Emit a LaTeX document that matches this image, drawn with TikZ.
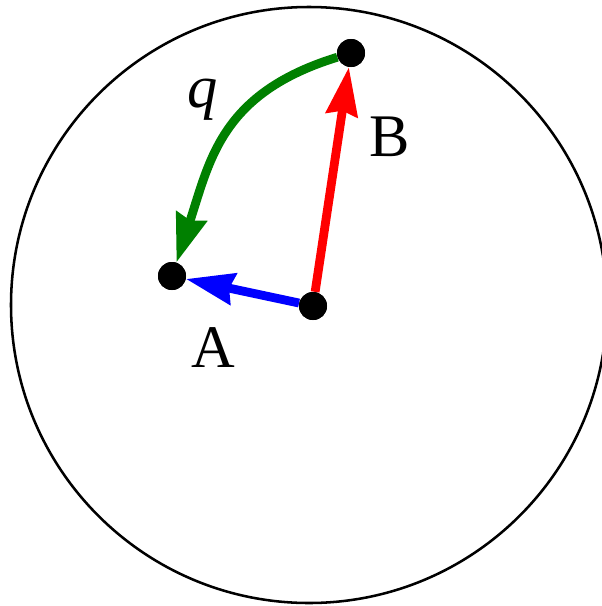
\documentclass[tikz,border=0pt]{standalone}
\usepackage{fontspec}
\setmainfont{Liberation Serif}
\usetikzlibrary{arrows.meta}

\begin{document}
\begin{tikzpicture}[
    x=0.025cm, y=-0.025cm,
    font=\fontsize{43}{50}\selectfont,
    % styles
    dot/.style={circle, fill=black, inner sep=0pt, minimum size=0.7cm},
    vec/.style={line width=0.22cm, -{Stealth[length=1.2cm, width=0.78cm, inset=0.1cm]}},
]
    \useasboundingbox (0,0) rectangle (602,606);
    \clip (0,0) rectangle (602,606);

    % sphere
    \draw[line width=1.8pt] (309,305) circle[radius=298*0.025cm];

    % points
    \node[dot] (O) at (313,306) {};
    \node[dot] (A) at (172,276) {};
    \node[dot] (B) at (351,53) {};

    % vectors
    \draw[vec, blue] (O) -- (A);
    \draw[vec, red] (O) -- (B);
    \draw[vec, green!50!black] (B) .. controls (221,93) and (210,160) .. (A);

    % dots on top
    \foreach \p in {O,A,B} \fill (\p) circle[radius=14*0.025cm];

    % labels
    \node (labA) at (213,348) {A};
    \node (labB) at (390,137) {B};
    \node (labq) at (203,100) {\textit{q}};
\end{tikzpicture}
\end{document}
